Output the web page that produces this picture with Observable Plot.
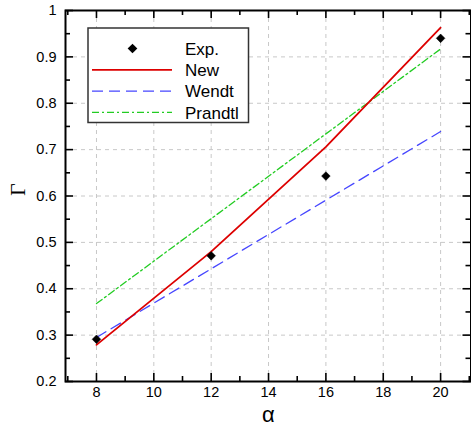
<!DOCTYPE html>
<html><head><meta charset="utf-8">
<script src="https://cdn.jsdelivr.net/npm/d3@7"></script>
<script src="https://cdn.jsdelivr.net/npm/@observablehq/plot@0.6"></script>
<style>
  body { margin: 0; background: #fff; }
  #chart svg { display: block; }
</style>
</head><body><div id="chart"></div>
<script>
// ---- data ----
const alphaValues = [8, 12, 16, 20];
const expValues = [0.291, 0.471, 0.643, 0.940];
const newValues = [0.279, 0.480, 0.706, 0.963];
const wendtValues = [0.295, 0.443, 0.591, 0.739];
const prandtlValues = [0.368, 0.551, 0.734, 0.917];

const seriesNames = ["Exp.", "New", "Wendt", "Prandtl"];
const seriesColors = ["#000000", "#dd0000", "#4646ff", "#22cc22"];
const seriesDash = [null, null, "11,6", "7,3,2,3"];

const xMajorTicks = [8, 10, 12, 14, 16, 18, 20];
const xMinorTicks = [7, 9, 11, 13, 15, 17, 19, 21];
const yMajorTicks = [0.2, 0.3, 0.4, 0.5, 0.6, 0.7, 0.8, 0.9, 1];
const yMinorTicks = [0.25, 0.35, 0.45, 0.55, 0.65, 0.75, 0.85, 0.95];

// ---- build tables ----
const expData = alphaValues.map((a, i) => ({alpha: a, gamma: expValues[i]}));
const lineData = [
  {name: "New", values: newValues},
  {name: "Wendt", values: wendtValues},
  {name: "Prandtl", values: prandtlValues}
].flatMap(s => alphaValues.map((a, i) => ({series: s.name, alpha: a, gamma: s.values[i]})));

const W = 471, H = 427;
const mL = 65, mR = 0.5, mT = 10, mB = 46;
const plotH = H - mT - mB;
const plotW = W - mL - mR;
const majLen = 8, minLen = 5;

function lineFor(name) {
  const i = seriesNames.indexOf(name);
  return Plot.line(lineData.filter(d => d.series === name), {
    x: "alpha", y: "gamma",
    stroke: seriesColors[i],
    strokeWidth: name === "New" ? 1.8 : 1.3,
    strokeDasharray: seriesDash[i]
  });
}

const tickStyle = {stroke: "black", strokeWidth: 1.6};

const chart = Plot.plot({
  width: W, height: H,
  marginLeft: mL, marginRight: mR, marginTop: mT, marginBottom: mB,
  style: {fontFamily: "'Liberation Sans', Arial, sans-serif", fontSize: "14px", background: "#fff"},
  x: {domain: [6.92, 21.06]},
  y: {domain: [0.2, 1]},
  marks: [
    Plot.gridX(xMajorTicks, {stroke: "#c8c8c8", strokeOpacity: 1, strokeDasharray: "4,4"}),
    Plot.gridY(yMajorTicks.filter(v => v > 0.2 && v < 1), {stroke: "#c8c8c8", strokeOpacity: 1, strokeDasharray: "4,4"}),
    // bottom ticks
    Plot.tickX(xMajorTicks, {x: d => d, insetTop: plotH - majLen, ...tickStyle}),
    Plot.tickX(xMinorTicks, {x: d => d, insetTop: plotH - minLen, ...tickStyle}),
    // top ticks
    Plot.tickX(xMajorTicks, {x: d => d, insetBottom: plotH - majLen, ...tickStyle}),
    Plot.tickX(xMinorTicks, {x: d => d, insetBottom: plotH - minLen, ...tickStyle}),
    // left ticks
    Plot.tickY(yMajorTicks, {y: d => d, insetRight: plotW - majLen, ...tickStyle}),
    Plot.tickY(yMinorTicks, {y: d => d, insetRight: plotW - minLen, ...tickStyle}),
    // right ticks
    Plot.tickY(yMajorTicks, {y: d => d, insetLeft: plotW - majLen, ...tickStyle}),
    Plot.tickY(yMinorTicks, {y: d => d, insetLeft: plotW - minLen, ...tickStyle}),
    Plot.axisX({ticks: xMajorTicks, tickSize: 0, tickPadding: 5, label: null, fontSize: 14.5}),
    Plot.axisY({ticks: yMajorTicks, tickSize: 0, tickPadding: 9, label: null, fontSize: 14.5, tickFormat: d3.format("~g")}),
    lineFor("Prandtl"),
    lineFor("Wendt"),
    lineFor("New"),
    Plot.dot(expData, {x: "alpha", y: "gamma", symbol: "diamond2", r: 3.9, fill: "black", stroke: "black", strokeWidth: 0.5}),
    Plot.frame({stroke: "black", strokeWidth: 2}),
    Plot.text(["α"], {frameAnchor: "bottom", lineAnchor: "middle", dy: 33, fontSize: 22, text: d => d}),
    Plot.text(["Γ"], {frameAnchor: "left", lineAnchor: "middle", dx: -48, rotate: -90, fontSize: 22, fontFamily: "'Liberation Serif', 'Times New Roman', serif", text: d => d})
  ]
});

document.getElementById("chart").appendChild(chart);

// ---- legend inside the plot ----
const svg = d3.select(chart);
const lg = svg.append("g").attr("transform", "translate(88,28)");
lg.append("rect").attr("x", 0).attr("y", 0).attr("width", 160.5).attr("height", 94.5)
  .attr("fill", "white").attr("stroke", "#333").attr("stroke-width", 1.5);
seriesNames.forEach((name, i) => {
  const cy = 20.5 + i * 21.3;
  if (i === 0) {
    lg.append("path").attr("d", d3.symbol(d3.symbolDiamond2, 60)())
      .attr("transform", `translate(44.5,${cy})`).attr("fill", "black");
  } else {
    lg.append("line").attr("x1", 4).attr("x2", 84).attr("y1", cy).attr("y2", cy)
      .attr("stroke", seriesColors[i]).attr("stroke-width", i === 1 ? 1.8 : 1.3)
      .attr("stroke-dasharray", seriesDash[i]);
  }
  lg.append("text").attr("x", 97).attr("y", cy).attr("dy", "0.36em")
    .attr("text-anchor", "start")
    .attr("font-size", 17).attr("fill", "black").text(name);
});
</script>
</body></html>
